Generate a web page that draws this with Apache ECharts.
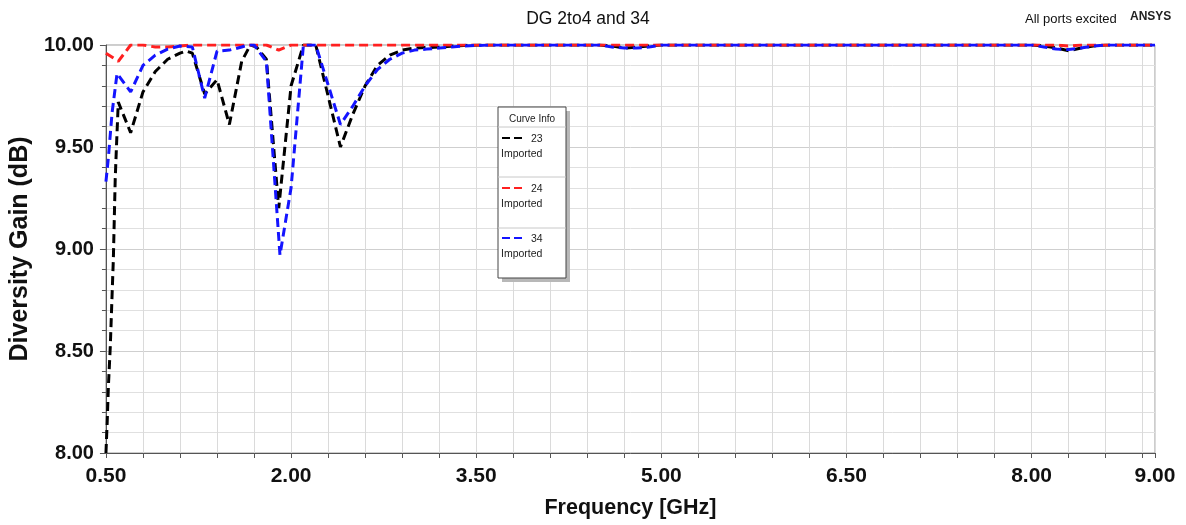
<!DOCTYPE html>
<html>
<head>
<meta charset="utf-8">
<script src="https://cdn.jsdelivr.net/npm/echarts@6/dist/echarts.min.js"></script>
<style>
html,body{margin:0;padding:0;background:#fff;}
#chart{width:1186px;height:525px;}
</style>
</head>
<body>
<div id="chart"></div>
<script>
// ---- data ----
var freq23 = [0.50,0.51,0.52,0.535,0.55,0.56,0.575,0.585,0.60,0.70,0.80,0.90,1.00,1.10,1.15,1.20,1.30,1.40,1.50,1.60,1.67,1.72,1.80,1.90,2.00,2.10,2.20,2.40,2.50,2.60,2.70,2.80,2.90,3.00,3.20,3.40,3.60,4.50,4.60,4.70,4.80,4.90,5.00,8.00,8.10,8.20,8.30,8.40,8.50,8.60,9.00];
var dg23   = [8.00,8.15,8.33,8.52,8.78,8.95,9.34,9.50,9.72,9.57,9.77,9.87,9.93,9.96,9.97,9.96,9.76,9.83,9.61,9.92,10.00,9.99,9.93,9.20,9.80,10.00,10.00,9.50,9.66,9.80,9.90,9.95,9.975,9.985,9.99,9.998,10.00,10.00,9.995,9.985,9.99,9.995,10.00,10.00,9.995,9.985,9.972,9.985,9.995,10.00,10.00];

var freq24 = [0.50,0.60,0.70,0.80,0.90,1.00,1.10,1.20,1.80,1.90,2.00,8.20,8.30,8.40,9.00];
var dg24   = [9.96,9.92,10.00,10.00,9.99,9.99,9.995,10.00,10.00,9.975,10.00,10.00,9.995,10.00,10.00];

var freq34 = [0.50,0.52,0.55,0.59,0.70,0.80,0.90,1.00,1.10,1.20,1.30,1.40,1.50,1.60,1.65,1.70,1.80,1.91,2.00,2.10,2.20,2.40,2.50,2.60,2.70,2.80,2.90,3.00,3.10,3.20,3.30,3.40,3.60,4.50,4.60,4.70,4.80,4.90,5.00,8.00,8.10,8.20,8.30,8.40,8.50,8.60,9.00];
var dg34   = [9.33,9.45,9.67,9.86,9.77,9.90,9.95,9.98,9.995,9.99,9.74,9.97,9.975,9.99,10.00,10.00,9.92,8.97,9.30,10.00,10.00,9.61,9.70,9.80,9.88,9.93,9.96,9.975,9.98,9.985,9.99,9.995,10.00,10.00,9.99,9.985,9.985,9.99,10.00,10.00,9.99,9.98,9.978,9.985,9.995,10.00,10.00];

var seriesNames = ['23','24','34'];
var seriesColors = ['#000000','#ff2020','#1414ff'];
var xLabelValues = [0.5,2.0,3.5,5.0,6.5,8.0,9.0];
var xGridStep = 0.3;
var yTickValues = [8.0,8.5,9.0,9.5,10.0];

// ---- build ----
var FONT = "'Liberation Sans', Arial, sans-serif";
var xMinorTicks = [];
for (var k = 0; k <= 28; k++) { xMinorTicks.push(Math.round((0.5 + k * xGridStep) * 100) / 100); }
xMinorTicks.push(9.0);

function pairs(f, v) { return f.map(function (x, i) { return [x, v[i]]; }); }
var seriesData = [pairs(freq23, dg23), pairs(freq24, dg24), pairs(freq34, dg34)];

var chart = echarts.init(document.getElementById('chart'), null, {renderer: 'canvas'});

var legendItems = [];
var lx = 498, ly = 107, lw = 68, lh = 171;
legendItems.push({type: 'rect', shape: {x: lx + 4, y: ly + 4, width: lw, height: lh}, style: {fill: '#b8b8b8'}, z: 100});
legendItems.push({type: 'rect', shape: {x: lx, y: ly, width: lw, height: lh}, style: {fill: '#fff', stroke: '#444', lineWidth: 1}, z: 101});
legendItems.push({type: 'text', x: lx + lw / 2, y: ly + 12, style: {text: 'Curve Info', font: '10px ' + FONT, fill: '#222', align: 'center', verticalAlign: 'middle'}, z: 102});
[127, 177, 228].forEach(function (yy) {
  legendItems.push({type: 'line', shape: {x1: lx, y1: yy, x2: lx + lw, y2: yy}, style: {stroke: '#c8c8c8', lineWidth: 1}, z: 102});
});
var entryY = [138, 188, 238];
seriesNames.forEach(function (nm, i) {
  var y0 = entryY[i];
  legendItems.push({type: 'line', shape: {x1: lx + 4, y1: y0, x2: lx + 24, y2: y0}, style: {stroke: seriesColors[i], lineWidth: 2, lineDash: [8, 4]}, z: 102});
  legendItems.push({type: 'text', x: lx + 33, y: y0 + 1, style: {text: nm, font: '10.5px ' + FONT, fill: '#222', verticalAlign: 'middle'}, z: 102});
  legendItems.push({type: 'text', x: lx + 3, y: y0 + 16, style: {text: 'Imported', font: '10.5px ' + FONT, fill: '#222', verticalAlign: 'middle'}, z: 102});
});

var option = {
  animation: false,
  backgroundColor: '#ffffff',
  grid: {left: 104, right: 31, top: 45, bottom: 72, show: true, borderColor: '#9a9a9a', borderWidth: 1, backgroundColor: 'transparent'},
  xAxis: {
    type: 'value', min: 0.5, max: 9.0,
    name: 'Frequency [GHz]', nameLocation: 'middle', nameGap: 44,
    nameTextStyle: {fontFamily: FONT, fontWeight: 'bold', fontSize: 21.5, color: '#111'},
    axisLine: {show: true, onZero: false, lineStyle: {color: '#555', width: 1}},
    axisTick: {show: true, length: 5, customValues: xMinorTicks, lineStyle: {color: '#555'}},
    axisLabel: {customValues: xLabelValues, margin: 13, fontFamily: FONT, fontWeight: 'bold', fontSize: 21, color: '#111',
      formatter: function (v) { return v.toFixed(2); }},
    splitLine: {show: true, lineStyle: {color: '#dadada', width: 1}}
  },
  yAxis: {
    type: 'value', min: 8, max: 10, interval: 0.5,
    name: 'Diversity Gain (dB)', nameLocation: 'middle', nameGap: 71, nameRotate: 90,
    nameTextStyle: {fontFamily: FONT, fontWeight: 'bold', fontSize: 25, color: '#111'},
    axisLine: {show: true, lineStyle: {color: '#555', width: 1}},
    axisTick: {show: true, length: 6, lineStyle: {color: '#555'}},
    minorTick: {show: true, splitNumber: 5, length: 4, lineStyle: {color: '#555'}},
    axisLabel: {margin: 12, fontFamily: FONT, fontWeight: 'bold', fontSize: 20, color: '#111',
      formatter: function (v) { return v.toFixed(2); }},
    splitLine: {show: true, lineStyle: {color: '#cfcfcf', width: 1}},
    minorSplitLine: {show: true, lineStyle: {color: '#e0e0e0', width: 1}}
  },
  series: seriesNames.map(function (nm, i) {
    return {
      name: nm, type: 'line', data: seriesData[i], symbol: 'none', smooth: false,
      lineStyle: {color: seriesColors[i], width: 3, type: [9, 5]},
      itemStyle: {color: seriesColors[i]}, z: 2 + i
    };
  }),
  graphic: [
    {type: 'text', x: 588, y: 19, style: {text: 'DG 2to4 and 34', font: '17.5px ' + FONT, fill: '#111', align: 'center', verticalAlign: 'middle'}},
    {type: 'text', x: 1025, y: 19, style: {text: 'All ports excited', font: '13px ' + FONT, fill: '#111', align: 'left', verticalAlign: 'middle'}},
    {type: 'text', x: 1130, y: 17, style: {text: 'ANSYS', font: 'bold 12px ' + FONT, fill: '#222', align: 'left', verticalAlign: 'middle'}}
  ].concat(legendItems)
};
chart.setOption(option);
</script>
</body>
</html>
